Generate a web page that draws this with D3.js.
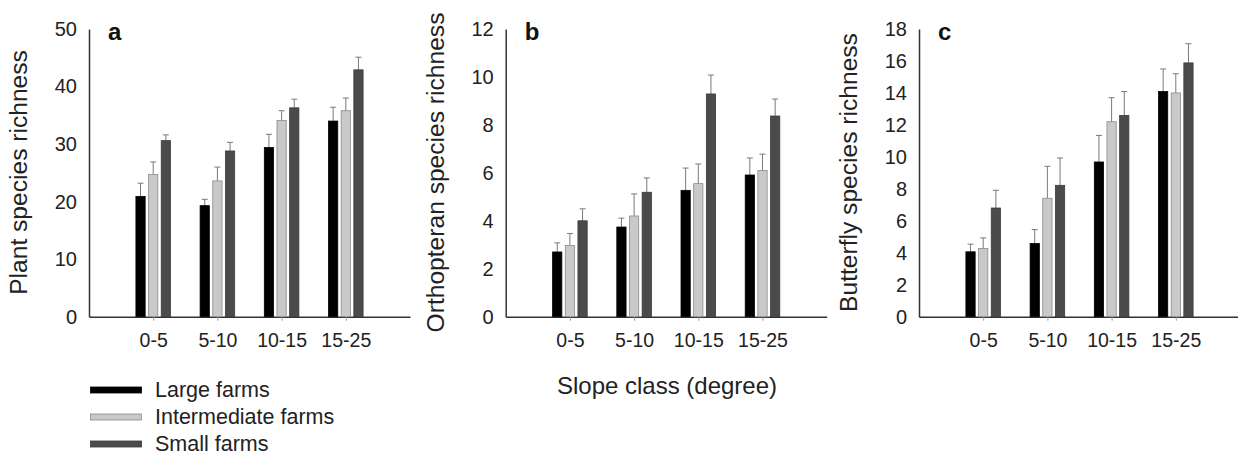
<!DOCTYPE html>
<html>
<head>
<meta charset="utf-8">
<script src="https://cdn.jsdelivr.net/npm/d3@7"></script>
<style>
  body { margin: 0; background: #fff; }
  svg { display: block; font-family: "Liberation Sans", Arial, sans-serif; }
</style>
</head>
<body>
<svg id="chart" width="1238" height="455"></svg>
<script>
// slope classes and farm types
var slopeClasses = ["0-5", "5-10", "10-15", "15-25"];
var farmTypes = ["Large farms", "Intermediate farms", "Small farms"];
var farmColors = ["#000000", "#c9c9c9", "#4b4b4b"];
var farmStroke = ["#000000", "#8a8a8a", "#3a3a3a"];

// plant species richness: mean and top of error bar, one list per farm type
var plantLarge = [20.9, 19.3, 29.4, 34.0];
var plantLargeErr = [23.2, 20.4, 31.7, 36.4];
var plantInter = [24.7, 23.6, 34.1, 35.8];
var plantInterErr = [26.9, 26.0, 35.8, 38.0];
var plantSmall = [30.6, 28.8, 36.3, 42.9];
var plantSmallErr = [31.6, 30.3, 37.8, 45.1];

// orthopteran species richness
var orthoLarge = [2.7, 3.74, 5.27, 5.91];
var orthoLargeErr = [3.08, 4.11, 6.2, 6.62];
var orthoInter = [2.97, 4.2, 5.55, 6.1];
var orthoInterErr = [3.47, 5.12, 6.37, 6.78];
var orthoSmall = [4.0, 5.19, 9.29, 8.37];
var orthoSmallErr = [4.5, 5.79, 10.08, 9.08];

// butterfly species richness
var butterLarge = [4.06, 4.58, 9.68, 14.09];
var butterLargeErr = [4.54, 5.45, 11.34, 15.5];
var butterInter = [4.27, 7.41, 12.2, 14.0];
var butterInterErr = [4.93, 9.41, 13.7, 15.2];
var butterSmall = [6.8, 8.22, 12.59, 15.88];
var butterSmallErr = [7.91, 9.93, 14.09, 17.08];

var panels = [
  { letter: "a", title: "Plant species richness", left: 89, maxY: 50, step: 10,
    means: [plantLarge, plantInter, plantSmall], errs: [plantLargeErr, plantInterErr, plantSmallErr] },
  { letter: "b", title: "Orthopteran species richness", left: 505.7, maxY: 12, step: 2,
    means: [orthoLarge, orthoInter, orthoSmall], errs: [orthoLargeErr, orthoInterErr, orthoSmallErr] },
  { letter: "c", title: "Butterfly species richness", left: 919, maxY: 18, step: 2,
    means: [butterLarge, butterInter, butterSmall], errs: [butterLargeErr, butterInterErr, butterSmallErr] }
];

var svg = d3.select("#chart");
var plotW = 321, plotTop = 29, plotBottom = 316.7;

panels.forEach(function(p) {
  var g = svg.append("g").attr("transform", "translate(" + p.left + ",0)");

  var x = d3.scaleLinear().domain([0, 5]).range([0, plotW]);
  var inner = d3.scaleBand().domain(farmTypes).range([-19, 19])
      .paddingInner(0.27).paddingOuter(0.135);
  var y = d3.scaleLinear().domain([0, p.maxY]).range([plotBottom, plotTop]);

  // y axis: line plus labels, no tick marks
  var yAxis = d3.axisLeft(y).tickValues(d3.range(0, p.maxY + 0.001, p.step))
      .tickSize(0).tickPadding(12);
  var ya = g.append("g").call(yAxis);
  ya.select(".domain").attr("stroke", "#333").attr("stroke-width", 1.5);
  ya.selectAll("text").attr("font-size", "20px").attr("fill", "#222");

  // x axis
  var xAxis = d3.axisBottom(x).tickValues([1, 2, 3, 4])
      .tickFormat(function(d) { return slopeClasses[d - 1]; })
      .tickSizeInner(4).tickSizeOuter(0).tickPadding(12);
  var xa = g.append("g").attr("transform", "translate(0," + plotBottom + ")").call(xAxis);
  xa.select(".domain").attr("stroke", "#333").attr("stroke-width", 1.5);
  xa.selectAll(".tick line").attr("stroke", "#999");
  xa.selectAll("text").attr("font-size", "19.5px").attr("fill", "#222");

  // bars and error bars
  farmTypes.forEach(function(f, j) {
    var bw = inner.bandwidth();
    slopeClasses.forEach(function(s, i) {
      var cx = x(i + 1) + inner(f);
      var v = p.means[j][i], e = p.errs[j][i];
      g.append("line")
        .attr("x1", cx + bw / 2).attr("x2", cx + bw / 2)
        .attr("y1", y(v)).attr("y2", y(e))
        .attr("stroke", "#7a7a7a").attr("stroke-width", 1);
      g.append("line")
        .attr("x1", cx + bw / 2 - 3).attr("x2", cx + bw / 2 + 3)
        .attr("y1", y(e)).attr("y2", y(e))
        .attr("stroke", "#7a7a7a").attr("stroke-width", 1);
      g.append("rect")
        .attr("x", cx).attr("y", y(v))
        .attr("width", bw).attr("height", y(0) - y(v))
        .attr("fill", farmColors[j])
        .attr("stroke", farmStroke[j]).attr("stroke-width", 0.8);
    });
  });

  // panel letter
  g.append("text").attr("x", 19).attr("y", 40)
    .attr("font-size", "24px").attr("font-weight", "bold").attr("fill", "#111")
    .text(p.letter);

  // y title
  g.append("text")
    .attr("transform", "translate(-62," + 172.5 + ") rotate(-90)")
    .attr("text-anchor", "middle")
    .attr("font-size", "24.6px").attr("fill", "#222")
    .text(p.title);
});

// shared x title
svg.append("text").attr("x", 667).attr("y", 394)
  .attr("text-anchor", "middle").attr("font-size", "24px").attr("fill", "#222")
  .text("Slope class (degree)");

// legend
var leg = svg.append("g");
farmTypes.forEach(function(f, j) {
  var cy = 390 + j * 27;
  leg.append("rect").attr("x", 90.5).attr("y", cy - 3)
    .attr("width", 51).attr("height", 6)
    .attr("fill", farmColors[j]).attr("stroke", farmStroke[j]).attr("stroke-width", 0.8);
  leg.append("text").attr("x", 155).attr("y", cy + 6.5)
    .attr("font-size", "21.5px").attr("fill", "#222").text(f);
});
</script>
</body>
</html>
